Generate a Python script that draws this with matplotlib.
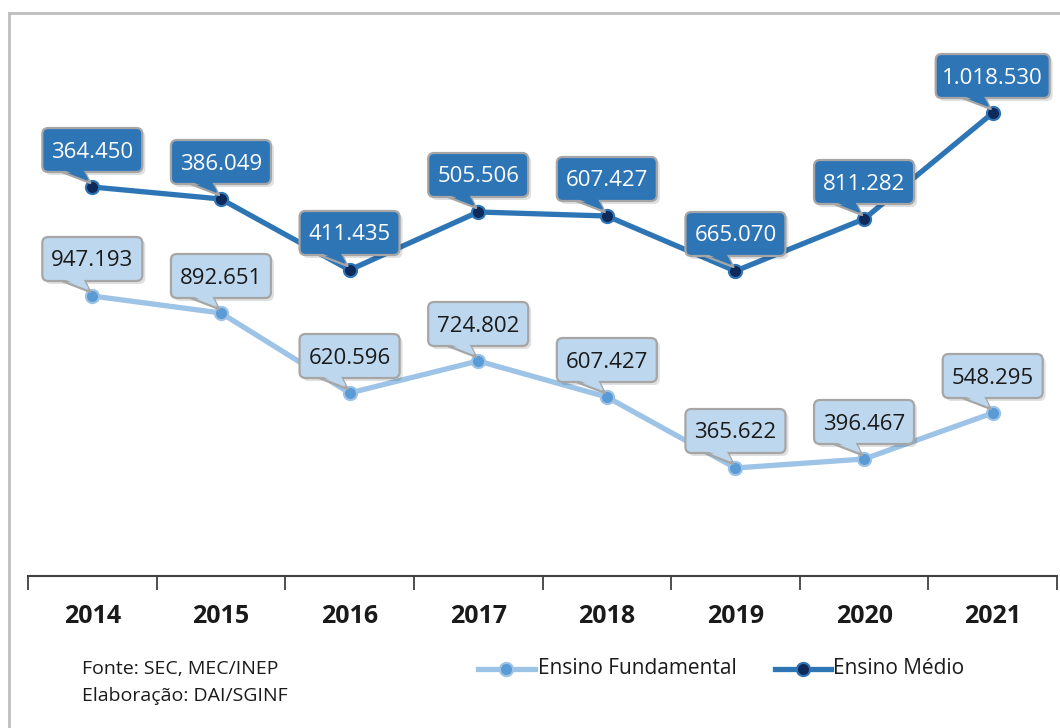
import numpy as np
import matplotlib
matplotlib.use("Agg")
import matplotlib.pyplot as plt
from matplotlib.patches import FancyBboxPatch, Polygon
from matplotlib.lines import Line2D
from matplotlib.transforms import Affine2D

plt.rcParams['font.family'] = ['Open Sans', 'DejaVu Sans']

anos = ['2014', '2015', '2016', '2017', '2018', '2019', '2020', '2021']
# valores dos rotulos
fund_valores = [947193, 892651, 620596, 724802, 607427, 365622, 396467, 548295]
medio_valores = [364450, 386049, 411435, 505506, 607427, 665070, 811282, 1018530]
# altura dos pontos como aparece no grafico (escala sem eixo)
fund_altura = [280, 263, 183, 215, 179, 108, 117, 163]
medio_altura = [389, 377, 306, 364, 360, 305, 357, 463]

W, H = 1060, 728
C_MEDIO = '#2E75B6'
C_MEDIO_MK = '#0E2A5A'
C_FUND = '#9DC3E6'
C_FUND_MK = '#5B9BD5'
C_FUND_BOX = '#BDD7EE'
C_BORDA = '#A6A6A6'


def fmt(v):
    return f"{v:,}".replace(',', '.')


def callout(fig, ax, x, y, texto, fill, tcolor):
    """Caixa de rotulo com ponta apontando para o ponto."""
    px, py = ax.transData.transform((x, y))
    tr = Affine2D().translate(px, py)
    w = 100 if len(texto) <= 7 else 114
    h = 44
    cy = 37
    bot = cy - h / 2
    # sombra
    sh = FancyBboxPatch((-w / 2 + 3, bot - 3), w, h,
                        boxstyle="round,pad=0,rounding_size=6",
                        fc='#000000', ec='none', alpha=0.12,
                        transform=tr, zorder=5)
    fig.add_artist(sh)
    tail = [(-33, bot + 1), (-8, bot + 1), (-2, 4)]
    fig.add_artist(Polygon(tail, closed=True, fc=fill, ec=C_BORDA, lw=1.6,
                           transform=tr, zorder=6, joinstyle='round'))
    box = FancyBboxPatch((-w / 2, bot), w, h,
                         boxstyle="round,pad=0,rounding_size=6",
                         fc=fill, ec=C_BORDA, lw=1.6,
                         transform=tr, zorder=7)
    fig.add_artist(box)
    tail2 = [(-31.5, bot + 3), (-9.5, bot + 3), (-3.5, 7)]
    fig.add_artist(Polygon(tail2, closed=True, fc=fill, ec='none',
                           transform=tr, zorder=8))
    fig.text(px / W, (py + cy - 2) / H, texto, ha='center', va='center',
             fontsize=16, color=tcolor, zorder=9)


fig = plt.figure(figsize=(W / 100, H / 100), dpi=100)
fig.patch.set_facecolor('white')

# moldura
fig.add_artist(Line2D([9 / W, 9 / W], [0, 1 - 13 / H], color='#BFBFBF', lw=2))
fig.add_artist(Line2D([9 / W, 1], [1 - 13 / H, 1 - 13 / H], color='#BFBFBF', lw=2))

ax = fig.add_axes([28 / W, 1 - 576 / H, (1057 - 28) / W, (576 - 20) / H])
ax.set_facecolor('none')
x = np.arange(len(anos))

ax.plot(x, fund_altura, color=C_FUND, lw=3.8, marker='o', ms=9.5,
        mfc=C_FUND_MK, mec=C_FUND, mew=1.5, zorder=3, solid_capstyle='round')
ax.plot(x, medio_altura, color=C_MEDIO, lw=3.8, marker='o', ms=9.5,
        mfc=C_MEDIO_MK, mec=C_MEDIO, mew=1.5, zorder=3, solid_capstyle='round')

ax.set_xlim(-0.5, len(anos) - 0.5)
ax.set_ylim(0, 556)

for s in ['top', 'right', 'left']:
    ax.spines[s].set_visible(False)
ax.spines['bottom'].set_color('#404040')
ax.spines['bottom'].set_linewidth(1.5)
ax.set_yticks([])
ax.set_xticks(x)
ax.set_xticklabels(anos, fontsize=18, fontweight='bold', color='#1a1a1a')
ax.tick_params(axis='x', which='major', length=0, pad=20)
ax.set_xticks(np.arange(-0.5, len(anos)), minor=True)
ax.tick_params(axis='x', which='minor', length=10, width=1.3, color='#404040')

fig.canvas.draw()
for i in range(len(anos)):
    callout(fig, ax, x[i], medio_altura[i], fmt(medio_valores[i]), C_MEDIO, 'white')
    callout(fig, ax, x[i], fund_altura[i], fmt(fund_valores[i]), C_FUND_BOX, '#1a1a1a')

# fonte
fig.text(82 / W, 1 - 669 / H, 'Fonte: SEC, MEC/INEP', fontsize=14,
         color='#1a1a1a', va='center')
fig.text(82 / W, 1 - 696 / H, 'Elaboração: DAI/SGINF', fontsize=14,
         color='#1a1a1a', va='center')

# legenda
ly = 1 - 669 / H
fig.add_artist(Line2D([478 / W, 535 / W], [ly, ly], color=C_FUND, lw=3.8))
fig.add_artist(Line2D([506 / W], [ly], marker='o', ms=9.5, mfc=C_FUND_MK,
                      mec=C_FUND, mew=1.5))
fig.text(538 / W, ly, 'Ensino Fundamental', fontsize=15, color='#1a1a1a',
         va='center')
fig.add_artist(Line2D([775 / W, 831 / W], [ly, ly], color=C_MEDIO, lw=3.8))
fig.add_artist(Line2D([803 / W], [ly], marker='o', ms=9.5, mfc=C_MEDIO_MK,
                      mec=C_MEDIO, mew=1.5))
fig.text(833 / W, ly, 'Ensino Médio', fontsize=15, color='#1a1a1a',
         va='center')

fig.savefig('out.png', dpi=100)
